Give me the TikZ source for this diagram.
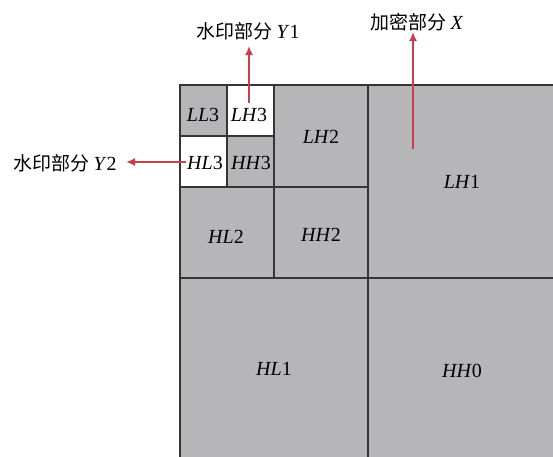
\documentclass[tikz,border=0pt]{standalone}
\usepackage{fontspec}
\setmainfont{Liberation Serif}
\newfontfamily\cjk{Noto Sans CJK SC}
\usetikzlibrary{arrows.meta}
\definecolor{cellgray}{HTML}{B6B5B8}
\definecolor{gridline}{HTML}{353535}
\definecolor{arrowred}{HTML}{C8404A}
\begin{document}
\begin{tikzpicture}[x=1pt,y=-1pt,
  cellbox/.style={draw=gridline, line width=1.5pt, fill=cellgray},
  wcellbox/.style={cellbox, fill=white},
  lab/.style={font=\fontsize{20}{22}\selectfont, inner sep=0pt, anchor=center},
  cjklab/.style={font=\fontsize{19}{22}\selectfont\cjk, inner sep=0pt, anchor=center},
  redarrow/.style={draw=arrowred, line width=1.6pt, -{Latex[length=9pt,width=8pt]}}]
\useasboundingbox (0,0) rectangle (553,456);
\begin{scope}
\clip (0,0) rectangle (553,456);
% level 1
\draw[cellbox] (368,85) rectangle (560,278);
\draw[cellbox] (180,278) rectangle (368,470);
\draw[cellbox] (368,278) rectangle (560,470);
% level 2
\draw[cellbox] (274,85) rectangle (368,187);
\draw[cellbox] (180,187) rectangle (274,278);
\draw[cellbox] (274,187) rectangle (368,278);
% level 3
\draw[cellbox] (180,85) rectangle (227,136);
\draw[wcellbox] (227,85) rectangle (274,136);
\draw[wcellbox] (180,136) rectangle (227,187);
\draw[cellbox] (227,136) rectangle (274,187);
\end{scope}
% cell labels
\node[lab] (ll3) at (203,115) {\textit{LL}3};
\node[lab] (lh3) at (249,115) {\textit{LH}3};
\node[lab] (hl3) at (205,163) {\textit{HL}3};
\node[lab] (hh3) at (251,163) {\textit{HH}3};
\node[lab] (lh2) at (321,137) {\textit{LH}2};
\node[lab] (hl2) at (226,237) {\textit{HL}2};
\node[lab] (hh2) at (321,235) {\textit{HH}2};
\node[lab] (lh1) at (462,182) {\textit{LH}1};
\node[lab] (hl1) at (274,369) {\textit{HL}1};
\node[lab] (hh0) at (462,371) {\textit{HH}0};
% outer labels
\node[cjklab] (y1) at (248,31) {水印部分 {\rmfamily\fontsize{20}{22}\selectfont\textit{Y}1}};
\node[cjklab] (xpart) at (417,22) {加密部分 {\rmfamily\fontsize{20}{22}\selectfont\textit{X}}};
\node[cjklab] (y2) at (65,163) {水印部分 {\rmfamily\fontsize{20}{22}\selectfont\textit{Y}2}};
% arrows
\coordinate (y1s) at (249,103);
\coordinate (y1t) at (249,46);
\coordinate (xs) at (413,149);
\coordinate (xt) at (413,32);
\coordinate (y2s) at (186,162);
\coordinate (y2t) at (126,162);
\draw[redarrow] (y1s) -- (y1t);
\draw[redarrow] (xs) -- (xt);
\draw[redarrow] (y2s) -- (y2t);
\end{tikzpicture}
\end{document}
